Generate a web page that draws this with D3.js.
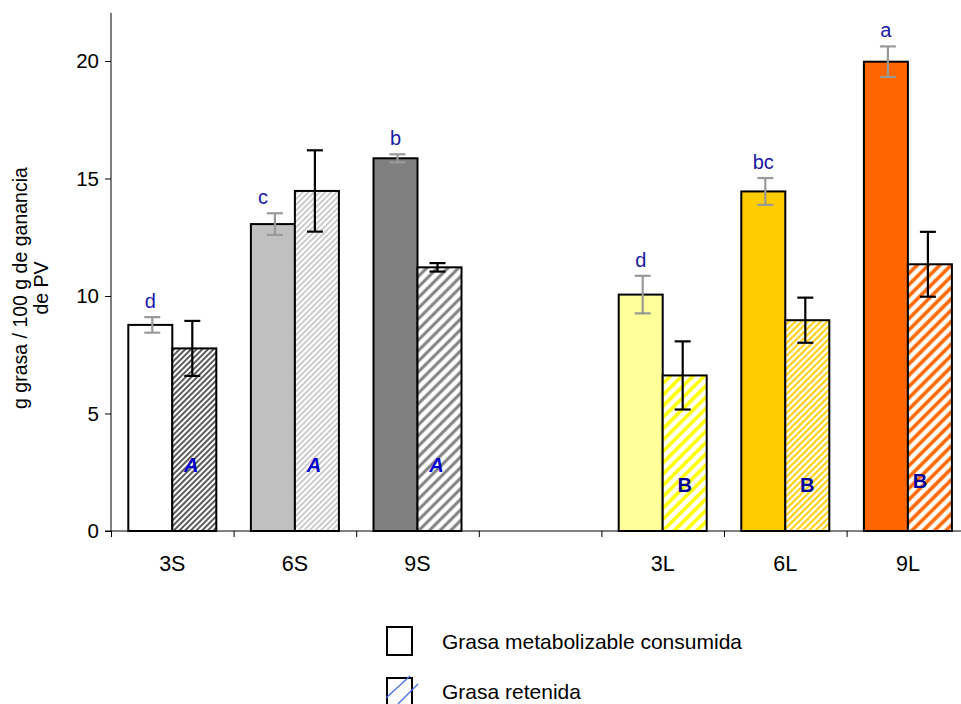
<!DOCTYPE html>
<html>
<head>
<meta charset="utf-8">
<script src="https://cdn.jsdelivr.net/npm/d3@7"></script>
<style>
  body { margin: 0; background: #fff; }
  text { font-family: Arial, "Liberation Sans", sans-serif; }
</style>
</head>
<body>
<div id="chart"></div>
<script>
// data
var groups = ["3S", "6S", "9S", "gap", "3L", "6L", "9L"];
var groupLabels = ["3S", "6S", "9S", "", "3L", "6L", "9L"];
var consumida = [8.77, 13.06, 15.86, null, 10.06, 14.45, 19.97];
var consumidaErr = [0.33, 0.46, 0.17, null, 0.8, 0.57, 0.65];
var retenida = [7.77, 14.47, 11.22, null, 6.62, 8.97, 11.35];
var retenidaErr = [1.17, 1.73, 0.18, null, 1.45, 0.96, 1.38];
var letrasMin = ["d", "c", "b", "", "d", "bc", "a"];
var letrasMay = ["A", "A", "A", "", "B", "B", "B"];
var yTicks = [0, 5, 10, 15, 20];

var fillMetab = ["#ffffff", "#c0c0c0", "#808080", null, "#ffff99", "#ffcc00", "#ff6600"];
// hatch: colour, line width, spacing
var hatch = [
  { c: "#333333", w: 1.6, s: 4 },
  { c: "#c0c0c0", w: 1.6, s: 4 },
  { c: "#808080", w: 3, s: 7.5 },
  null,
  { c: "#ffff00", w: 3.5, s: 8 },
  { c: "#ffcc00", w: 2, s: 4.5 },
  { c: "#ff6600", w: 3.5, s: 8 }
];

var svgWidth = 961;
var svgHeight = 704;

var svg = d3.select("#chart")
  .append("svg")
  .attr("width", svgWidth)
  .attr("height", svgHeight);

var defs = svg.append("defs");
hatch.forEach(function(h, i) {
  if (!h) return;
  var p = defs.append("pattern")
    .attr("id", "hatch" + i)
    .attr("patternUnits", "userSpaceOnUse")
    .attr("width", h.s)
    .attr("height", h.s)
    .attr("patternTransform", "rotate(45)");
  p.append("rect").attr("width", h.s).attr("height", h.s).attr("fill", "#fff");
  p.append("line")
    .attr("x1", h.s / 2).attr("x2", h.s / 2)
    .attr("y1", 0).attr("y2", h.s)
    .attr("stroke", h.c)
    .attr("stroke-width", h.w);
});

var x0 = 111, y0 = 531;
var x = d3.scaleBand()
  .domain(groups)
  .range([x0, x0 + 7 * 122.6]);
var xEdge = d3.scaleLinear().domain([0, 7]).range(x.range());
var y = d3.scaleLinear()
  .domain([0, 20])
  .range([y0, 61]);

var barW = 44;

// y axis
var yAxis = svg.append("g")
  .attr("transform", "translate(" + x0 + ",0)")
  .call(d3.axisLeft(y).tickValues(yTicks).tickSize(6).tickSizeOuter(0));
yAxis.select(".domain").attr("d", "M0," + y0 + "V" + y(22.05));
yAxis.selectAll("text").attr("font-size", 20.5).attr("font-family", "Arial, 'Liberation Sans', sans-serif").attr("dx", "-3");
yAxis.selectAll("line, path").attr("stroke", "#000");

// x axis with ticks at band edges
var xAxis = svg.append("g")
  .attr("transform", "translate(0," + y0 + ")")
  .call(d3.axisBottom(xEdge).tickValues(d3.range(0, 8)).tickFormat("").tickSize(6).tickSizeOuter(0));
xAxis.selectAll("line, path").attr("stroke", "#000");
xAxis.select(".domain").attr("d", "M" + (x0 - 6) + ",0H" + svgWidth);

svg.append("g")
  .selectAll("text")
  .data(groups)
  .enter()
  .append("text")
  .attr("x", d => x(d) + x.bandwidth() / 2)
  .attr("y", 571)
  .attr("text-anchor", "middle")
  .attr("font-size", 21.5)
  .text((d, i) => groupLabels[i]);

// y title
var yTitle = svg.append("text")
  .attr("transform", "translate(27,288) rotate(-90)")
  .attr("text-anchor", "middle")
  .attr("font-size", 19.5);
yTitle.append("tspan").attr("x", 0).attr("dy", 0).text("g grasa / 100 g de ganancia");
yTitle.append("tspan").attr("x", 0).attr("dy", 21).text("de PV");

var idx = d3.range(groups.length).filter(i => consumida[i] != null);

// bars
var bars = svg.append("g");
bars.selectAll("rect.metab")
  .data(idx)
  .enter()
  .append("rect")
  .attr("class", "metab")
  .attr("x", i => x(groups[i]) + x.bandwidth() / 2 - barW)
  .attr("y", i => y(consumida[i]))
  .attr("width", barW)
  .attr("height", i => y0 - y(consumida[i]))
  .attr("fill", i => fillMetab[i])
  .attr("stroke", "#000")
  .attr("stroke-width", 2);

bars.selectAll("rect.ret")
  .data(idx)
  .enter()
  .append("rect")
  .attr("class", "ret")
  .attr("x", i => x(groups[i]) + x.bandwidth() / 2)
  .attr("y", i => y(retenida[i]))
  .attr("width", barW)
  .attr("height", i => y0 - y(retenida[i]))
  .attr("fill", i => "url(#hatch" + i + ")")
  .attr("stroke", "#000")
  .attr("stroke-width", 2);

// error bars
function errBars(vals, errs, dx, colour) {
  var g = svg.append("g").attr("stroke", colour).attr("stroke-width", 2.2);
  idx.forEach(function(i) {
    var cx = x(groups[i]) + x.bandwidth() / 2 + dx;
    var hi = y(vals[i] + errs[i]), lo = y(vals[i] - errs[i]);
    g.append("line").attr("x1", cx).attr("x2", cx).attr("y1", hi).attr("y2", lo);
    g.append("line").attr("x1", cx - 8).attr("x2", cx + 8).attr("y1", hi).attr("y2", hi);
    g.append("line").attr("x1", cx - 8).attr("x2", cx + 8).attr("y1", lo).attr("y2", lo);
  });
}
errBars(consumida, consumidaErr, -barW / 2 + 2, "#999999");
errBars(retenida, retenidaErr, barW / 2 - 2, "#000000");

// letters
svg.append("g")
  .selectAll("text")
  .data(idx)
  .enter()
  .append("text")
  .attr("x", i => x(groups[i]) + x.bandwidth() / 2 - barW / 2 - (i === 1 ? 10 : 0))
  .attr("y", i => y(consumida[i] + consumidaErr[i]) - 9)
  .attr("text-anchor", "middle")
  .attr("font-size", 20)
  .attr("font-family", "'DejaVu Sans', sans-serif")
  .attr("fill", "#1a1aa6")
  .text(i => letrasMin[i]);

svg.append("g")
  .selectAll("text")
  .data(idx)
  .enter()
  .append("text")
  .attr("x", i => x(groups[i]) + x.bandwidth() / 2 + barW / 2 - (i === 6 ? 10 : 0) - (letrasMay[i] === "A" ? 3 : 0))
  .attr("y", i => letrasMay[i] === "A" ? 472 : (i === 6 ? 488 : 492))
  .attr("text-anchor", "middle")
  .attr("font-size", 20)
  .attr("font-weight", "bold")
  .attr("font-style", i => letrasMay[i] === "A" ? "italic" : "normal")
  .attr("font-family", "'DejaVu Sans', sans-serif")
  .attr("fill", i => letrasMay[i] === "A" ? "#0000cc" : "#000099")
  .text(i => letrasMay[i]);

// legend
var legend = svg.append("g");
legend.append("rect")
  .attr("x", 387).attr("y", 627).attr("width", 25).attr("height", 28)
  .attr("fill", "#fff").attr("stroke", "#000").attr("stroke-width", 2);
legend.append("text")
  .attr("x", 442).attr("y", 649).attr("font-size", 21)
  .text("Grasa metabolizable consumida");
legend.append("rect")
  .attr("x", 387).attr("y", 678).attr("width", 25).attr("height", 30)
  .attr("fill", "#fff").attr("stroke", "#000").attr("stroke-width", 2);
legend.append("line")
  .attr("x1", 386).attr("y1", 698).attr("x2", 410).attr("y2", 676)
  .attr("stroke", "#4a6ee0").attr("stroke-width", 1.3);
legend.append("line")
  .attr("x1", 398).attr("y1", 704).attr("x2", 418).attr("y2", 684)
  .attr("stroke", "#4a6ee0").attr("stroke-width", 1.3);
legend.append("text")
  .attr("x", 442).attr("y", 699).attr("font-size", 21)
  .text("Grasa retenida");
</script>
</body>
</html>
